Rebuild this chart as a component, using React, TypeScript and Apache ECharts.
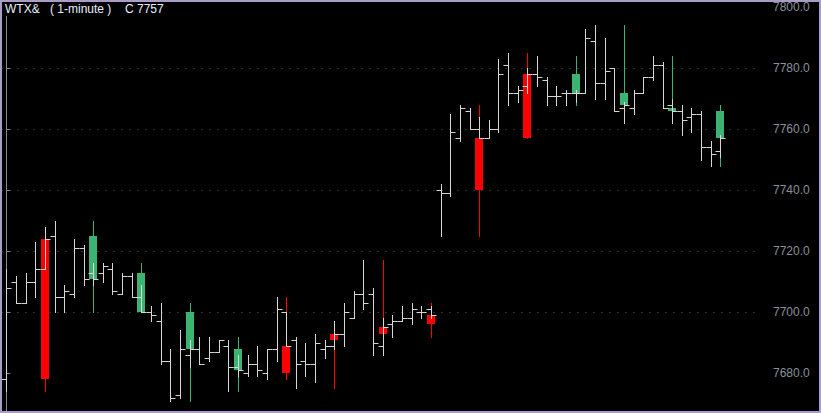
import React, { useEffect, useRef } from "react";
import * as echarts from "echarts";

// 1-minute bars (index = minute)
const barOpen = [7678, 7710, 7703, 7710, 7714, 7725, 7705, 7706, 7721, 7713, 7713, 7714, 7706, 7712, 7705, 7700, 7697, 7684, 7673, 7686, 7688, 7685, 7687, 7689, 7682, 7680, 7683, 7680, 7688, 7700, 7691, 7684, 7683, 7688, 7689, 7693, 7698, 7706, 7706, 7689, 7696, 7697, 7698, 7700, 7701, 7740, 7739, 7757, 7766, 7760, 7757, 7760, 7781, 7772, 7774, 7778, 7776, 7771, 7772, 7772, 7772, 7789, 7775, 7780, 7767, 7767, 7772, 7777, 7781, 7768, 7766, 7764, 7765, 7754, 7753];
const barHigh = [7714, 7712, 7713, 7723, 7728, 7730, 7709, 7724, 7722, 7716, 7716, 7716, 7713, 7713, 7709, 7702, 7703, 7688, 7694, 7691, 7692, 7692, 7691, 7691, 7686, 7686, 7689, 7688, 7705, 7700, 7692, 7690, 7693, 7691, 7697, 7703, 7707, 7717, 7708, 7698, 7699, 7702, 7703, 7702, 7702, 7742, 7765, 7768, 7767, 7764, 7763, 7783, 7785, 7774, 7780, 7784, 7777, 7774, 7773, 7773, 7793, 7794, 7790, 7780, 7769, 7773, 7777, 7784, 7782, 7770, 7768, 7767, 7766, 7756, 7758];
const barLow = [7674, 7703, 7703, 7705, 7714, 7700, 7700, 7705, 7709, 7709, 7710, 7706, 7706, 7705, 7700, 7697, 7683, 7671, 7672, 7682, 7683, 7684, 7687, 7674, 7679, 7679, 7679, 7678, 7684, 7689, 7675, 7679, 7677, 7685, 7688, 7689, 7698, 7701, 7686, 7686, 7692, 7697, 7696, 7698, 7698, 7725, 7738, 7756, 7760, 7757, 7757, 7759, 7768, 7769, 7772, 7774, 7768, 7768, 7768, 7769, 7772, 7770, 7770, 7766, 7762, 7765, 7772, 7776, 7767, 7762, 7758, 7759, 7750, 7748, 7751];
const barClose = [7708, 7703, 7710, 7714, 7724, 7705, 7707, 7721, 7711, 7711, 7715, 7707, 7712, 7705, 7700, 7699, 7684, 7672, 7688, 7688, 7683, 7687, 7691, 7682, 7681, 7683, 7681, 7688, 7701, 7689, 7683, 7683, 7690, 7689, 7693, 7700, 7706, 7703, 7690, 7695, 7697, 7698, 7701, 7700, 7699, 7739, 7759, 7767, 7760, 7757, 7760, 7778, 7772, 7773, 7778, 7777, 7771, 7771, 7772, 7772, 7790, 7775, 7779, 7766, 7768, 7772, 7777, 7781, 7767, 7766, 7763, 7765, 7754, 7752, 7757];

// minutes per overlay candle (5-minute candles drawn at the last minute of each block)
const candleSpan = 5;
const slotCount = 78.5;
const yMin = 7667.6;
const yMax = 7801.7;
const tickValues = [7680, 7700, 7720, 7740, 7760, 7780, 7800];

const titleParts = [
  { text: "WTX&", x: 5 },
  { text: "( 1-minute )", x: 50 },
  { text: "C 7757", x: 125 },
];

export default function App() {
  const ref = useRef<HTMLDivElement>(null);
  useEffect(() => {
    if (!ref.current) return;
    const chart = echarts.init(ref.current, undefined, { renderer: "svg" });

    const bars = barOpen.map((o, i) => [i, o, barHigh[i], barLow[i], barClose[i]]);
    const candles: number[][] = [];
    for (let s = 0; s + candleSpan <= barOpen.length; s += candleSpan) {
      const e = s + candleSpan - 1;
      const o = barOpen[s];
      const c = barClose[e];
      const h = Math.max(...barHigh.slice(s, e + 1));
      const l = Math.min(...barLow.slice(s, e + 1));
      candles.push([e, o, h, l, c]);
    }

    const px = (v: number) => Math.round(v) + 0.5;
    const isTick = (v: number) => tickValues.some((t) => Math.abs(t - v) < 1e-6);

    chart.setOption({
      animation: false,
      backgroundColor: "#000000",
      grid: { left: 1.5, right: 62, top: 2, bottom: 2, outerBoundsMode: "none" },
      xAxis: { type: "value", min: -0.5, max: slotCount - 0.5, show: false },
      yAxis: {
        type: "value",
        position: "right",
        min: yMin,
        max: yMax,
        splitNumber: 7,
        axisLine: { show: true, lineStyle: { color: "#8a8a8a", width: 1 } },
        axisTick: { show: true, length: 4, customValues: tickValues, lineStyle: { color: "#8a8a8a" } },
        axisLabel: {
          color: "#8a9099",
          fontSize: 12,
          fontFamily: "'Liberation Sans', Arial, sans-serif",
          margin: 14,
          customValues: tickValues,
          formatter: (v: number) => (isTick(v) ? v.toFixed(1) : ""),
        },
        splitLine: {
          show: true,
          showMinLine: false,
          showMaxLine: false,
          lineStyle: { color: "#5a5a5a", width: 1, type: [1, 7] },
        },
      },
      series: [
        {
          type: "custom",
          data: candles,
          encode: { x: 0, y: [1, 2, 3, 4] },
          z: 2,
          renderItem: (params: any, api: any) => {
            const i = api.value(0);
            const o = api.coord([i, api.value(1)]);
            const h = api.coord([i, api.value(2)]);
            const l = api.coord([i, api.value(3)]);
            const c = api.coord([i, api.value(4)]);
            const up = api.value(4) >= api.value(1);
            const color = up ? "#ff0000" : "#3cb371";
            const x = px(o[0]);
            const top = Math.round(Math.min(o[1], c[1]));
            const bot = Math.round(Math.max(o[1], c[1]));
            return {
              type: "group",
              children: [
                { type: "line", shape: { x1: x, y1: Math.round(h[1]), x2: x, y2: Math.round(l[1]) + 1 }, style: { stroke: color, lineWidth: 1 } },
                { type: "rect", shape: { x: x - 4.5, y: top, width: 8, height: Math.max(1, bot - top) }, style: { fill: color } },
              ],
            };
          },
        },
        {
          type: "custom",
          data: bars,
          encode: { x: 0, y: [1, 2, 3, 4] },
          z: 3,
          renderItem: (params: any, api: any) => {
            const i = api.value(0);
            const o = api.coord([i, api.value(1)]);
            const h = api.coord([i, api.value(2)]);
            const l = api.coord([i, api.value(3)]);
            const c = api.coord([i, api.value(4)]);
            const w = api.size([1, 0])[0];
            const t = Math.round(w * 0.47);
            const x = px(o[0]);
            const style = { stroke: "#d6d6d6", lineWidth: 1 };
            return {
              type: "group",
              children: [
                { type: "line", shape: { x1: x, y1: Math.round(h[1]), x2: x, y2: Math.round(l[1]) + 1 }, style },
                { type: "line", shape: { x1: x - t, y1: px(o[1]), x2: x, y2: px(o[1]) }, style },
                { type: "line", shape: { x1: x, y1: px(c[1]), x2: x + t, y2: px(c[1]) }, style },
              ],
            };
          },
        },
      ],
      graphic: [
        { type: "rect", z: 50, shape: { x: 2, y: 2, width: 168, height: 14 }, style: { fill: "#000000" } },
        ...titleParts.map((p) => ({
          type: "text",
          z: 51,
          x: p.x,
          y: 3,
          style: {
            text: p.text,
            fill: "#e6eeff",
            font: "12px 'Liberation Sans', Arial, sans-serif",
            verticalAlign: "top",
            align: "left",
          },
        })),
        {
          type: "rect",
          z: 100,
          shape: { x: 1, y: 1, width: 819, height: 411 },
          style: { fill: "none", stroke: "#a99cc7", lineWidth: 2 },
        },
      ],
    });
    return () => chart.dispose();
  }, []);
  return <div ref={ref} style={{ position: "fixed", left: 0, top: 0, width: 821, height: 413 }} />;
}
